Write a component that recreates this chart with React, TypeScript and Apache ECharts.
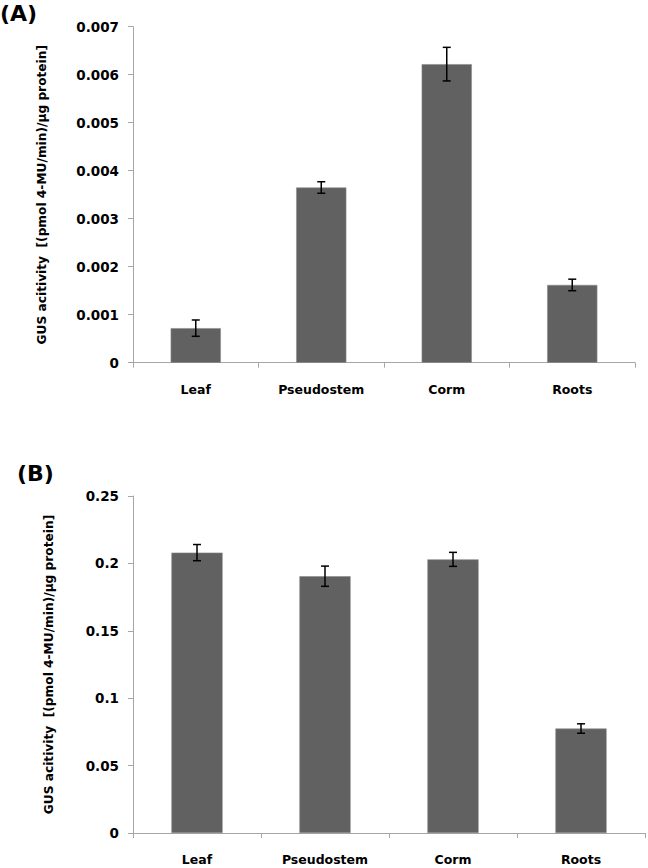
import React, { useEffect, useRef } from "react";
import * as echarts from "echarts";

const categories = ["Leaf", "Pseudostem", "Corm", "Roots"];
const valuesA = [0.00072, 0.00365, 0.00622, 0.00162];
const errorsA = [0.00017, 0.00012, 0.00035, 0.00012];
const valuesB = [0.208, 0.1905, 0.203, 0.0775];
const errorsB = [0.006, 0.0075, 0.0052, 0.0035];
const yTitle = "GUS acitivity  [(pmol 4-MU/min)/µg protein]";

const FONT = "'DejaVu Sans', sans-serif";
const AXIS_COLOR = "#a6a6a6";
const BAR_COLOR = "#616161";

function errorItem(params: any, api: any) {
  const x = api.value(0);
  const lo = api.value(1);
  const hi = api.value(2);
  const pLo = api.coord([x, lo]);
  const pHi = api.coord([x, hi]);
  const cap = 4;
  const style = { stroke: "#000", lineWidth: 1.5 };
  return {
    type: "group",
    children: [
      { type: "line", shape: { x1: pLo[0], y1: pLo[1], x2: pHi[0], y2: pHi[1] }, style },
      { type: "line", shape: { x1: pLo[0] - cap, y1: pLo[1], x2: pLo[0] + cap, y2: pLo[1] }, style },
      { type: "line", shape: { x1: pHi[0] - cap, y1: pHi[1], x2: pHi[0] + cap, y2: pHi[1] }, style },
    ],
  };
}

export default function App() {
  const ref = useRef<HTMLDivElement>(null);
  useEffect(() => {
    if (!ref.current) return;
    const chart = echarts.init(ref.current, null, { renderer: "svg" });
    const xAxisCommon = {
      type: "category",
      data: categories,
      axisLine: { lineStyle: { color: AXIS_COLOR, width: 1 } },
      axisTick: { show: true, length: 5, alignWithLabel: false, lineStyle: { color: AXIS_COLOR } },
      axisLabel: { color: "#000", fontWeight: "bold", fontSize: 12.5, fontFamily: FONT, margin: 20 },
      splitLine: { show: false },
    };
    const yAxisCommon = {
      type: "value",
      min: 0,
      axisLine: { show: true, lineStyle: { color: AXIS_COLOR, width: 1 } },
      axisTick: { show: true, length: 5, lineStyle: { color: AXIS_COLOR } },
      splitLine: { show: false },
      nameLocation: "middle",
      nameRotate: 90,
      nameTextStyle: { color: "#000", fontWeight: "bold", fontSize: 12.2, fontFamily: FONT },
      name: yTitle,
    };
    const errData = (vals: number[], errs: number[]) =>
      vals.map((v, i) => [i, v - errs[i], v + errs[i]]);
    chart.setOption({
      animation: false,
      backgroundColor: "#fff",
      graphic: [
        { type: "text", left: 0, top: 2, style: { text: "(A)", font: `bold 22px ${FONT}`, fill: "#000" } },
        { type: "text", left: 17, top: 462, style: { text: "(B)", font: `bold 22px ${FONT}`, fill: "#000" } },
      ],
      grid: [
        { left: 133, top: 26.7, width: 502, height: 336 },
        { left: 133, top: 496, width: 512, height: 337 },
      ],
      xAxis: [
        { ...xAxisCommon, gridIndex: 0 },
        { ...xAxisCommon, gridIndex: 1 },
      ],
      yAxis: [
        {
          ...yAxisCommon,
          gridIndex: 0,
          max: 0.007,
          interval: 0.001,
          nameGap: 85,
          axisLabel: {
            color: "#000", fontWeight: "bold", fontSize: 13.5, fontFamily: FONT, margin: 14,
            formatter: (v: number) => (v === 0 ? "0" : v.toFixed(3)),
          },
        },
        {
          ...yAxisCommon,
          gridIndex: 1,
          max: 0.25,
          interval: 0.05,
          nameGap: 78,
          axisLabel: {
            color: "#000", fontWeight: "bold", fontSize: 13.5, fontFamily: FONT, margin: 14,
            formatter: (v: number) => String(parseFloat(v.toFixed(2))),
          },
        },
      ],
      series: [
        {
          type: "bar",
          xAxisIndex: 0,
          yAxisIndex: 0,
          data: valuesA,
          barWidth: "40%",
          itemStyle: { color: BAR_COLOR, borderColor: "#8a8a8a", borderWidth: 0.6 },
        },
        {
          type: "custom",
          xAxisIndex: 0,
          yAxisIndex: 0,
          data: errData(valuesA, errorsA),
          renderItem: errorItem,
          z: 10,
        },
        {
          type: "bar",
          xAxisIndex: 1,
          yAxisIndex: 1,
          data: valuesB,
          barWidth: "40%",
          itemStyle: { color: BAR_COLOR, borderColor: "#8a8a8a", borderWidth: 0.6 },
        },
        {
          type: "custom",
          xAxisIndex: 1,
          yAxisIndex: 1,
          data: errData(valuesB, errorsB),
          renderItem: errorItem,
          z: 10,
        },
      ],
    });
    return () => chart.dispose();
  }, []);
  return (
    <div
      ref={ref}
      style={{ position: "fixed", left: 0, top: 0, width: 648, height: 868, background: "#fff" }}
    />
  );
}
